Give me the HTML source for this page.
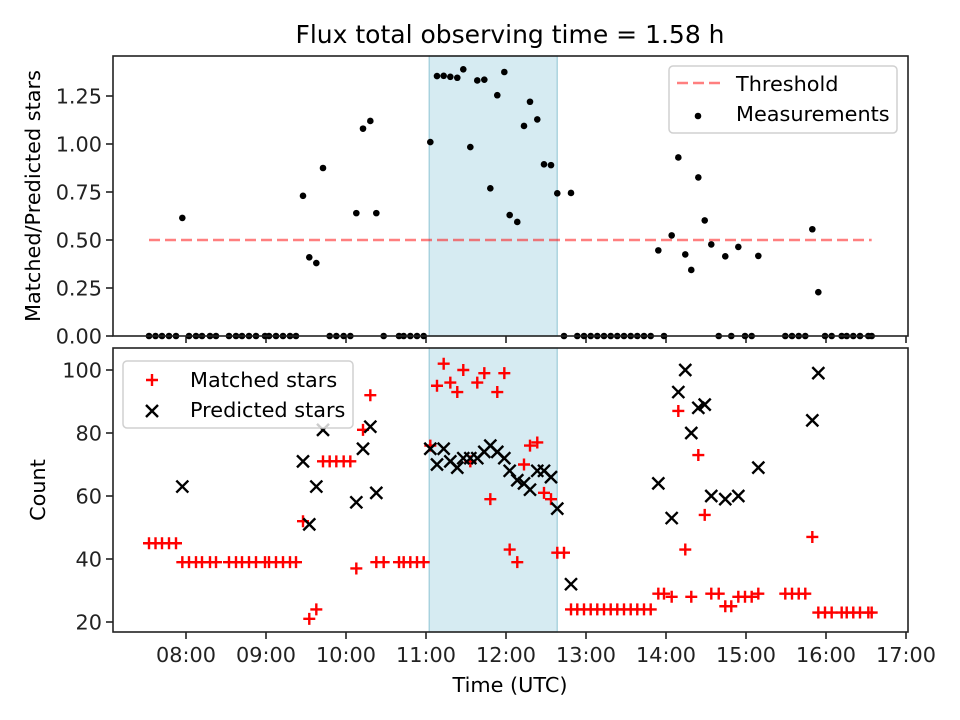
<!DOCTYPE html>
<html><head><meta charset="utf-8"><style>
body{margin:0;background:#fff}
svg{display:block;font-family:"DejaVu Sans","Liberation Sans",sans-serif}
</style></head><body>
<svg id="chart" width="960" height="720" viewBox="0 0 960 720" xmlns="http://www.w3.org/2000/svg">
<text x="510" y="43" font-size="25" text-anchor="middle">Flux total observing time = 1.58 h</text>
<text transform="translate(40,196) rotate(-90)" font-size="20.8" text-anchor="middle">Matched/Predicted stars</text>
<text transform="translate(45,490) rotate(-90)" font-size="20.8" text-anchor="middle">Count</text>
<text x="510" y="692" font-size="20.8" text-anchor="middle">Time (UTC)</text>
<g id="top"></g><g id="bot"></g>
</svg>
<script>
const times=[7.5375,7.619,7.7,7.7875,7.875,7.954,8.0375,8.125,8.2,8.3,8.375,8.5375,8.625,8.7,8.7875,8.875,8.9875,9.0375,9.125,9.2125,9.3,9.375,9.4625,9.541,9.629,9.7125,9.796,9.879,9.971,10.054,10.129,10.2125,10.304,10.379,10.471,10.6625,10.721,10.804,10.8875,10.971,11.054,11.1375,11.221,11.304,11.391,11.466,11.554,11.641,11.729,11.804,11.891,11.979,12.046,12.141,12.225,12.3,12.391,12.475,12.5625,12.641,12.725,12.8125,12.891,12.975,13.059,13.141,13.225,13.309,13.391,13.475,13.559,13.641,13.725,13.809,13.904,13.975,14.071,14.154,14.241,14.316,14.404,14.484,14.566,14.659,14.741,14.816,14.904,14.9875,15.071,15.154,15.491,15.575,15.659,15.741,15.829,15.904,15.9875,16.071,16.196,16.259,16.341,16.425,16.529,16.571];
const matched=[45,45,45,45,45,39,39,39,39,39,39,39,39,39,39,39,39,39,39,39,39,39,52,21,24,71,71,71,71,71,37,81,92,39,39,39,39,39,39,39,76,95,102,96,93,100,71,96,99,59,93,99,43,39,70,76,77,61,59,42,42,24,24,24,24,24,24,24,24,24,24,24,24,24,29,29,28,87,43,28,73,54,29,29,25,25,28,28,28,29,29,29,29,29,47,23,23,23,23,23,23,23,23,23];
const predicted=[null,null,null,null,null,63,null,null,null,null,null,null,null,null,null,null,null,null,null,null,null,null,71,51,63,81,null,null,null,null,58,75,82,61,null,null,null,null,null,null,75,70,75,71,69,72,72,72,74,76,74,72,68,65,64,62,68,68,66,56,null,32,null,null,null,null,null,null,null,null,null,null,null,null,64,null,53,93,100,80,88,89,60,null,59,null,60,null,null,69,null,null,null,null,84,99,null,null,null,null,null,null,null,null];
const ratio=[0,0,0,0,0,0.615,0,0,0,0,0,0,0,0,0,0,0,0,0,0,0,0,0.73,0.41,0.38,0.875,0,0,0,0,0.64,1.08,1.12,0.64,0,0,0,0,0,0,1.01,1.354,1.355,1.35,1.345,1.389,0.984,1.331,1.335,0.769,1.254,1.375,0.63,0.594,1.094,1.22,1.128,0.894,0.89,0.743,0,0.745,0,0,0,0,0,0,0,0,0,0,0,0,0.446,0,0.524,0.93,0.425,0.344,0.826,0.602,0.477,0,0.415,0,0.464,0,0,0.417,0,0,0,0,0.556,0.228,0,0,0,0,0,0,0,0];
const threshold=0.5;
const shadeSpan=[11.04,12.64];
const xTicks=[8,9,10,11,12,13,14,15,16,17];
const xTickLabels=["08:00","09:00","10:00","11:00","12:00","13:00","14:00","15:00","16:00","17:00"];
const topTicks=[0,0.25,0.5,0.75,1.0,1.25];
const topTickLabels=["0.00","0.25","0.50","0.75","1.00","1.25"];
const botTicks=[20,40,60,80,100];
const botTickLabels=["20","40","60","80","100"];

const NS="http://www.w3.org/2000/svg";
const L=113,R=908;
const X=h=>186+(h-8)*80;
const T={top:56,bot:336};
const B={top:348,bot:632};
const YT=v=>336-v*192;
const YB=v=>622-(v-20)*3.15;
function mk(tag,attrs,parent){const e=document.createElementNS(NS,tag);for(const k in attrs)e.setAttribute(k,attrs[k]);parent.appendChild(e);return e;}
const gT=document.getElementById('top'),gB=document.getElementById('bot');

function axes(g,box,yTicks,yLabels,yf,showX,name){
  let r=mk('rect',{x:X(shadeSpan[0]),y:box.top,width:X(shadeSpan[1])-X(shadeSpan[0]),height:box.bot-box.top,fill:'#add8e6','fill-opacity':0.5,stroke:'#9ccbd9','stroke-width':1.2},g);
  
  
  yTicks.forEach((v,i)=>{
    const y=yf(v);
    let t=mk('line',{x1:L-7,x2:L,y1:y,y2:y,stroke:'#222','stroke-width':1.6},g);
    
    
    let tx=mk('text',{x:L-11,y:y+7.5,'font-size':20.8,'text-anchor':'end',fill:'#222'},g);
    tx.textContent=yLabels[i];
    
    
  });
  xTicks.forEach((v,i)=>{
    const x=X(v);
    let t=mk('line',{x1:x,x2:x,y1:box.bot,y2:box.bot+7,stroke:'#222','stroke-width':1.6},g);
    
    
    if(showX){
      let tx=mk('text',{x:x,y:box.bot+30,'font-size':20.8,'text-anchor':'middle',fill:'#222'},g);
      tx.textContent=xTickLabels[i];
      
      
    }
  });
}
axes(gT,T,topTicks,topTickLabels,YT,false,'top');
axes(gB,B,botTicks,botTickLabels,YB,true,'bottom');

let th=mk('line',{x1:X(times[0]),x2:X(times[times.length-1]),y1:YT(threshold),y2:YT(threshold),stroke:'#ff0000','stroke-opacity':0.5,'stroke-width':2.6,'stroke-dasharray':'11,5'},gT);


times.forEach((t,i)=>{
  let c=mk('circle',{cx:X(t),cy:YT(ratio[i]),r:3.3,fill:'#000'},gT);
  
  
});
function plus(g,x,y,s,color){return mk('path',{d:`M${x-s} ${y}H${x+s}M${x} ${y-s}V${y+s}`,stroke:color,'stroke-width':2.4,fill:'none'},g);}
function cross(g,x,y,s,color){return mk('path',{d:`M${x-s} ${y-s}L${x+s} ${y+s}M${x-s} ${y+s}L${x+s} ${y-s}`,stroke:color,'stroke-width':2.4,fill:'none'},g);}
times.forEach((t,i)=>{
  let p=plus(gB,X(t),YB(matched[i]),6,'#ff0000');
  
  
});
times.forEach((t,i)=>{
  if(predicted[i]===null)return;
  let p=cross(gB,X(t),YB(predicted[i]),6,'#000');
  
  
});
[[gT,T,'top-axes-frame'],[gB,B,'bottom-axes-frame']].forEach(([g,b,n])=>{
  let f=mk('rect',{x:L,y:b.top,width:R-L,height:b.bot-b.top,fill:'none',stroke:'#222','stroke-width':1.6},g);
  
  
});
let lg1=mk('g',{},gT);


mk('rect',{x:669,y:66,width:228,height:67,rx:4,fill:'#fff','fill-opacity':0.8,stroke:'#d0d0d0','stroke-width':1.5},lg1);
mk('line',{x1:677,x2:720,y1:83,y2:83,stroke:'#ff0000','stroke-opacity':0.5,'stroke-width':2.6,'stroke-dasharray':'11,5'},lg1);
mk('circle',{cx:698,cy:116,r:3.3,fill:'#000'},lg1);
let a=mk('text',{x:736,y:91,'font-size':20.8},lg1);a.textContent='Threshold';


let b2=mk('text',{x:736,y:121,'font-size':20.8},lg1);b2.textContent='Measurements';



let lg2=mk('g',{},gB);


mk('rect',{x:123,y:361,width:230,height:67,rx:4,fill:'#fff','fill-opacity':0.8,stroke:'#d0d0d0','stroke-width':1.5},lg2);
plus(lg2,152,380,6,'#ff0000');
cross(lg2,152,411,6,'#000');
let c1=mk('text',{x:190,y:387,'font-size':20.8},lg2);c1.textContent='Matched stars';


let c2=mk('text',{x:190,y:417,'font-size':20.8},lg2);c2.textContent='Predicted stars';


</script>
</body></html>
